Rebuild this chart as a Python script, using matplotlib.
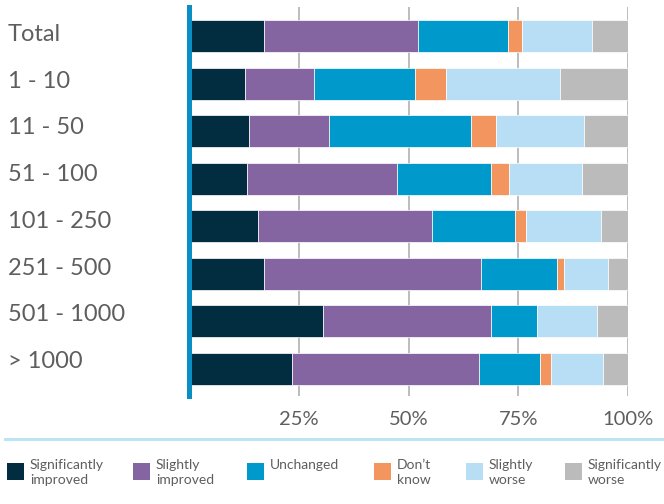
import matplotlib.pyplot as plt
from matplotlib.lines import Line2D
from matplotlib.patches import Rectangle
from matplotlib.transforms import ScaledTranslation, blended_transform_factory
import numpy as np

plt.rcParams['font.family'] = ['Lato', 'DejaVu Sans']

# company size groups, top to bottom
groups = ['Total', '1 - 10', '11 - 50', '51 - 100', '101 - 250',
          '251 - 500', '501 - 1000', '> 1000']

# share of answers per group (%)
sig_improved = [17.0, 12.7, 13.6, 13.2, 15.7, 17.0, 30.4, 23.5]
slight_improved = [35.2, 15.8, 18.3, 34.2, 39.7, 49.6, 38.3, 42.6]
unchanged = [20.5, 23.0, 32.3, 21.3, 18.9, 17.2, 10.5, 13.9]
dont_know = [3.2, 7.0, 5.7, 4.3, 2.5, 1.6, 0.0, 2.6]
slight_worse = [15.9, 26.1, 20.2, 16.6, 17.2, 10.1, 13.8, 11.7]
sig_worse = [8.2, 15.4, 9.9, 10.4, 6.0, 4.5, 7.0, 5.7]

answers = ['Significantly\nimproved', 'Slightly\nimproved', 'Unchanged',
           'Don\u2019t\nknow', 'Slightly\nworse', 'Significantly\nworse']
colors = ['#022c40', '#8565a1', '#0099cb', '#f3955e', '#b8def6', '#bbbbbb']
series = [sig_improved, slight_improved, unchanged, dont_know, slight_worse, sig_worse]

txt_color = '#5e5e5e'

fig = plt.figure(figsize=(6.64, 5.04), dpi=100)
W, H = 664, 504
ax = fig.add_axes([189.4 / W, 1 - 396 / H, (627.7 - 189.4) / W, 389 / H])

y = np.arange(len(groups))
left = np.zeros(len(groups))
for vals, c in zip(series, colors):
    vals = np.array(vals)
    ax.barh(y, vals, left=left, height=0.67, color=c, edgecolor='white',
            linewidth=0.5, zorder=2)
    left += vals

ax.set_xlim(0, 100)
ax.set_ylim(7.573, -0.617)
ax.set_xticks([25, 50, 75, 100])
ax.set_xticklabels(['25%', '50%', '75%', '100%'])
ax.set_yticks([])
ax.tick_params(axis='x', length=0, pad=10.5, labelsize=14.5, labelcolor=txt_color)

# group names flush left, sitting a little above the bar centres
lab_tr = blended_transform_factory(fig.transFigure, ax.transData)
for i, g in enumerate(groups):
    off = ScaledTranslation(0, -(4.4 - 0.7 * i) / 100, fig.dpi_scale_trans)
    ax.text(8 / W, i, g, transform=lab_tr + off, ha='left', va='baseline',
            fontsize=17, color=txt_color)

ax.grid(axis='x', color='#bdbdbd', linewidth=1.4, zorder=0)
ax.grid(axis='y', visible=False)
for s in ['top', 'right', 'bottom']:
    ax.spines[s].set_visible(False)
ax.spines['left'].set_color('#0a8fc4')
ax.spines['left'].set_linewidth(3.6)
ax.spines['left'].set_zorder(3)

# separator above the legend
fig.add_artist(Line2D([5 / W, 1], [1 - 438.5 / H] * 2, color='#bde3f6',
                      linewidth=2.2, transform=fig.transFigure))

# legend row
sq_x = [7, 133, 247, 374, 466, 565]
for x0, lab, c in zip(sq_x, answers, colors):
    fig.add_artist(Rectangle((x0 / W, 1 - 480 / H), 17 / W, 17 / H,
                             facecolor=c, edgecolor='none',
                             transform=fig.transFigure))
    fig.text((x0 + 23) / W, 1 - 459 / H, lab, ha='left', va='top',
             fontsize=10, color=txt_color, linespacing=1.3)

fig.savefig('out.png', dpi=100)
